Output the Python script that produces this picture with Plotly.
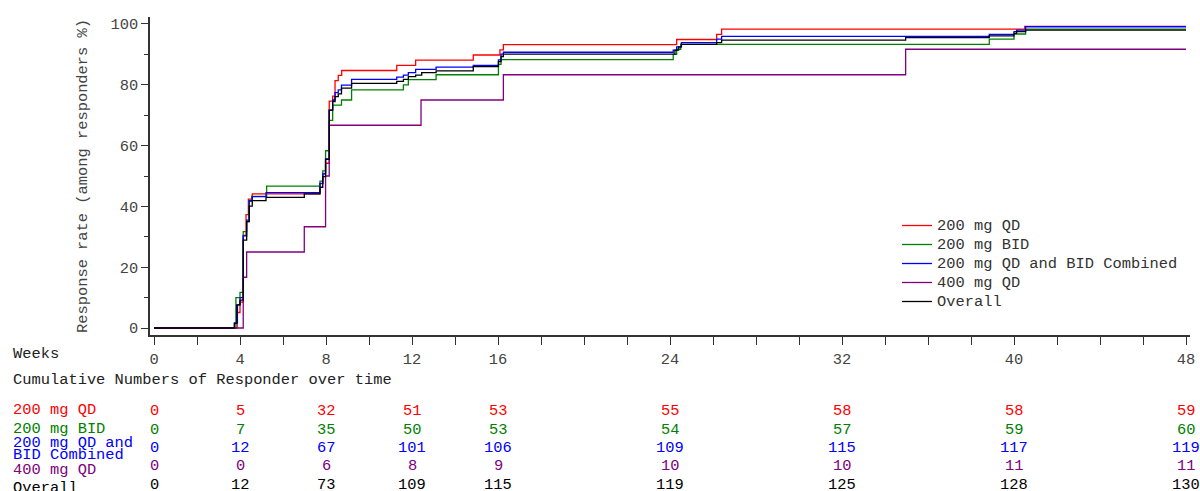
import plotly.graph_objects as go

# ---------------- data ----------------
series_names = ["200 mg QD", "200 mg BID", "200 mg QD and BID Combined", "400 mg QD", "Overall"]
series_colors = ["#FF0000", "#008000", "#0000FF", "#800080", "#000000"]

qd200_t = [0, 3.87, 4.0, 4.15, 4.28, 4.39, 4.57, 7.72, 7.85, 7.98, 8.15, 8.31, 8.42, 8.57, 8.73,
           11.29, 12.17, 14.85, 16.09, 16.25, 24.31, 26.17, 26.4, 40.5, 48]
qd200_y = [0, 5.1, 8.5, 30.5, 37.3, 42.4, 44.1, 47.5, 50.8, 54.2, 74.6, 76.3, 81.4, 83.1, 84.7,
           86.4, 88.1, 89.8, 91.5, 93.2, 94.9, 96.6, 98.3, 99.2, 99.2]

bid200_t = [0, 3.81, 4.0, 4.15, 4.31, 4.42, 4.54, 5.24, 7.72, 7.85, 7.98, 8.15, 8.31, 8.72, 9.19,
            11.6, 11.83, 13.12, 16.02, 16.14, 24.15, 24.31, 24.5, 38.85, 40.0, 40.54, 48]
bid200_y = [0, 10.0, 11.7, 31.7, 35.0, 41.7, 43.3, 46.7, 48.3, 51.7, 58.3, 68.3, 73.3, 75.0, 78.3,
            80.0, 81.7, 83.3, 86.7, 88.3, 90.0, 91.7, 93.3, 95.0, 96.7, 98.3, 98.3]

comb_t = [0, 3.74, 3.88, 4.0, 4.15, 4.31, 4.43, 4.57, 5.21, 7.72, 7.85, 7.98, 8.15, 8.31, 8.42,
          8.57, 8.72, 9.19, 11.29, 11.6, 11.83, 12.17, 13.12, 14.85, 16.02, 16.14, 16.25, 24.15,
          24.31, 24.53, 26.17, 26.4, 38.85, 40.0, 40.12, 40.54, 48]
comb_y = [0, 1.7, 7.6, 10.0, 30.3, 35.5, 41.9, 43.2, 44.5, 47.6, 50.7, 55.6, 71.7, 75.0, 77.4,
          78.3, 79.9, 81.8, 82.5, 83.2, 84.0, 85.1, 85.8, 86.4, 88.2, 90.1, 90.7, 91.4,
          92.5, 93.9, 95.0, 95.9, 96.6, 97.5, 98.0, 99.1, 99.1]

qd400_t = [0, 4.15, 4.31, 6.99, 7.98, 8.15, 12.42, 16.25, 34.96, 48]
qd400_y = [0, 16.7, 25.0, 33.3, 50.0, 66.7, 75.0, 83.3, 91.7, 91.7]

overall_t = [0, 3.74, 3.85, 4.0, 4.15, 4.31, 4.43, 4.57, 5.21, 6.99, 7.72, 7.85, 7.98, 8.15, 8.31,
             8.42, 8.57, 8.72, 9.19, 11.29, 11.6, 11.83, 12.17, 12.45, 13.12, 14.85, 16.02, 16.14,
             16.25, 24.23, 24.4, 24.53, 26.17, 26.4, 34.96, 38.85, 40.0, 40.12, 40.54, 48]
overall_y = [0, 1.5, 7.6, 9.2, 28.9, 35.0, 40.1, 41.9, 43.0, 44.1, 46.3, 49.8, 55.5, 71.7, 74.5,
             76.1, 77.0, 78.9, 80.5, 81.1, 81.8, 82.7, 83.2, 84.0, 84.6, 86.0, 87.6, 89.3,
             90.1, 91.4, 92.5, 93.3, 93.9, 94.7, 95.5, 96.1, 96.9, 97.5, 98.0, 98.0]

x_tick_vals = list(range(0, 49, 2))
x_labeled = [0, 4, 8, 12, 16, 24, 32, 40, 48]
y_tick_vals = [0, 20, 40, 60, 80, 100]

table_weeks = [0, 4, 8, 12, 16, 24, 32, 40, 48]
table_qd200 = [0, 5, 32, 51, 53, 55, 58, 58, 59]
table_bid200 = [0, 7, 35, 50, 53, 54, 57, 59, 60]
table_comb = [0, 12, 67, 101, 106, 109, 115, 117, 119]
table_qd400 = [0, 0, 6, 8, 9, 10, 10, 11, 11]
table_overall = [0, 12, 73, 109, 115, 119, 125, 128, 130]

# ---------------- figure ----------------
FONT = "Liberation Mono, Courier New, monospace"
FS = 15.4
LEG_FS = 11.8  # controls legend row spacing; visible text size set via span
W, H = 1200, 491
# plot area in pixels
PL, PR, PT, PB = 150, 1190, 17, 335
L, R, T, B = PL, W - PR, PT, H - PB


def py(pix):
    """pixel row -> paper y"""
    return (PB - pix) / (PB - PT)


def px(pix):
    """pixel col -> paper x"""
    return (pix - PL) / (PR - PL)


fig = go.Figure()
all_t = [qd200_t, bid200_t, comb_t, qd400_t, overall_t]
all_y = [qd200_y, bid200_y, comb_y, qd400_y, overall_y]
for name, col, t, y in zip(series_names, series_colors, all_t, all_y):
    fig.add_trace(go.Scatter(x=t, y=y, mode="lines",
                             name=f'<span style="font-size:{FS}px">{name}</span>',
                             line=dict(color=col, width=1.3, shape="hv")))

ticktext = [str(v) if v in x_labeled else "" for v in x_tick_vals]

fig.update_layout(
    width=W, height=H,
    margin=dict(l=L, r=R, t=T, b=B, autoexpand=False),
    plot_bgcolor="white", paper_bgcolor="white",
    font=dict(family=FONT, size=FS, color="#333333"),
    showlegend=True,
    legend=dict(x=px(897), y=py(211), xanchor="left", yanchor="top",
                bgcolor="rgba(0,0,0,0)", font=dict(family=FONT, size=LEG_FS, color="#333333"),
                tracegroupgap=0),
    xaxis=dict(range=[-0.186, 48.186], tickvals=x_tick_vals, ticktext=ticktext,
               ticks="outside", ticklen=8, tickcolor="#333333", tickwidth=1.2,
               showline=True, linecolor="#333333", linewidth=1.5, showgrid=False,
               zeroline=False, ticklabelstandoff=1,
               tickfont=dict(family=FONT, size=FS, color="#444444")),
    yaxis=dict(range=[-2.3, 102.3], tickvals=y_tick_vals,
               ticks="outside", ticklen=7, tickcolor="#333333", tickwidth=1.2,
               minor=dict(dtick=10, tick0=0, ticks="outside", ticklen=4, tickcolor="#333333", tickwidth=1.2),
               showline=True, linecolor="#333333", linewidth=1.5, showgrid=False,
               zeroline=False,
               tickfont=dict(family=FONT, size=FS, color="#444444")),
)

ann = []
ann.append(dict(text="Response rate (among responders %)", textangle=-90,
                xref="paper", yref="paper", x=px(83), y=0.5, xanchor="center", yanchor="middle",
                showarrow=False, font=dict(family=FONT, size=FS, color="#444444")))
ann.append(dict(text="Weeks", xref="paper", yref="paper", x=px(11), y=py(354),
                xanchor="left", yanchor="middle", showarrow=False,
                font=dict(family=FONT, size=FS, color="#222222")))
ann.append(dict(text="Cumulative Numbers of Responder over time", xref="paper", yref="paper",
                x=px(11), y=py(380), xanchor="left", yanchor="middle", showarrow=False,
                font=dict(family=FONT, size=FS, color="#222222")))

row_label_lines = [["200 mg QD"], ["200 mg BID"], ["200 mg QD and", "BID Combined"], ["400 mg QD"], ["Overall"]]
row_label_y = [[410], [429], [443, 455], [470], [488]]
row_value_y = [411, 430, 448, 466, 485]
row_values = [table_qd200, table_bid200, table_comb, table_qd400, table_overall]

for lines, ly, vy, vals, col in zip(row_label_lines, row_label_y, row_value_y, row_values, series_colors):
    for txt, yy in zip(lines, ly):
        ann.append(dict(text=txt, xref="paper", yref="paper", x=px(11), y=py(yy),
                        xanchor="left", yanchor="middle", showarrow=False,
                        font=dict(family=FONT, size=FS, color=col)))
    for wk, v in zip(table_weeks, vals):
        ann.append(dict(text=str(v), xref="x", yref="paper", x=wk, y=py(vy),
                        xanchor="center", yanchor="middle", showarrow=False,
                        font=dict(family=FONT, size=FS, color=col)))

fig.update_layout(annotations=ann)
fig.write_html("out.html", config={"displayModeBar": False},
               post_script="document.body.style.margin='0';document.body.style.overflow='hidden';")
